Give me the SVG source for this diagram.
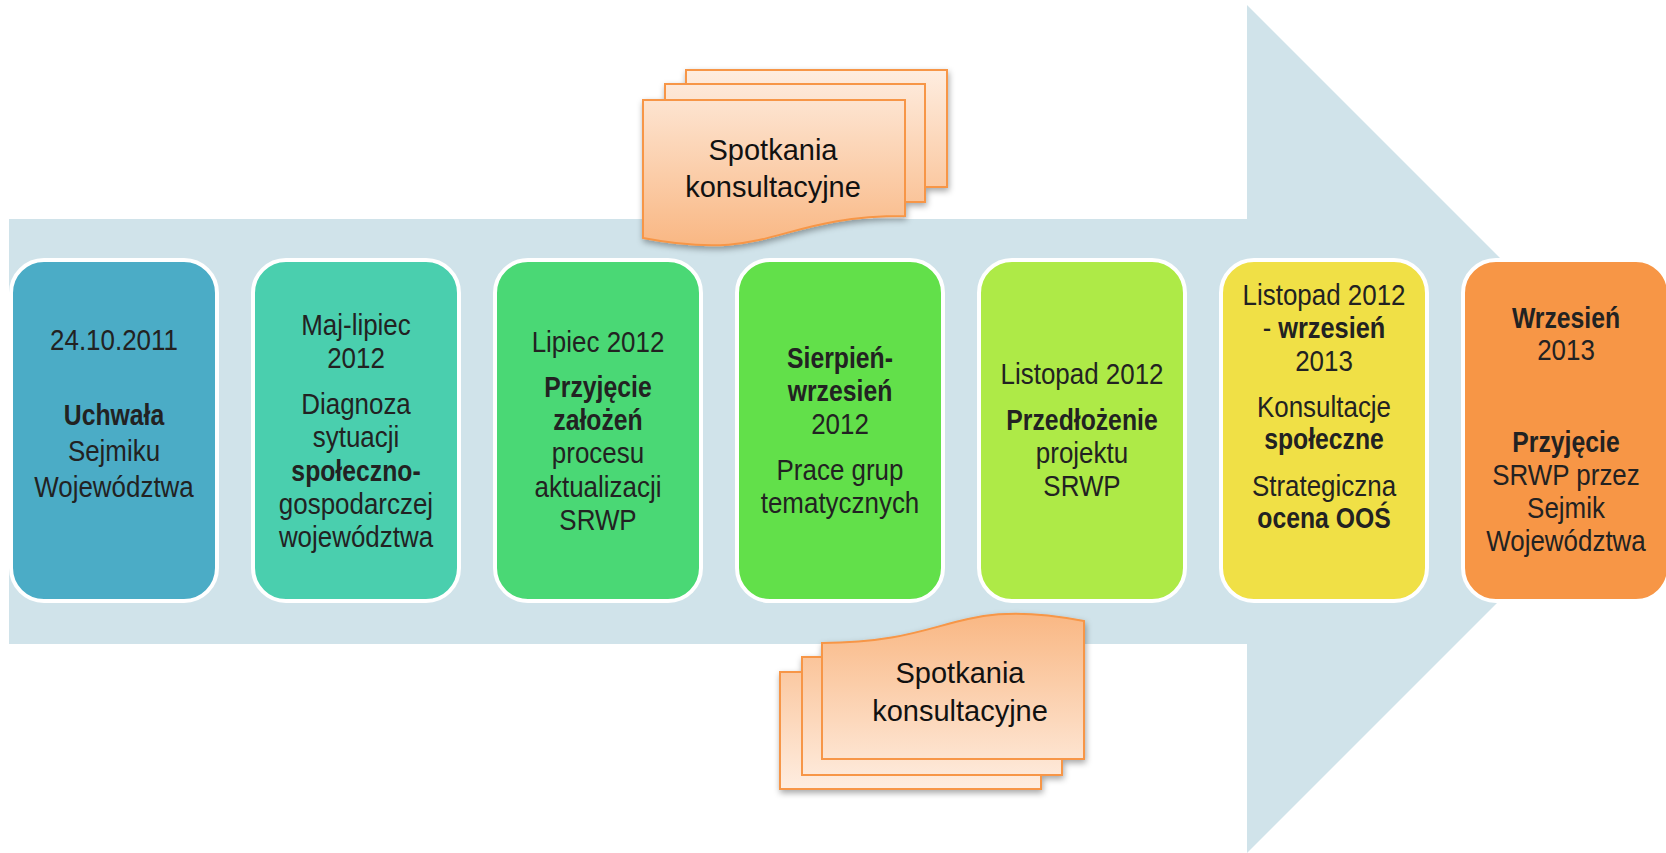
<svg xmlns="http://www.w3.org/2000/svg" width="1666" height="853" viewBox="0 0 1666 853">
<style>
  .node rect { stroke: #ffffff; stroke-width: 4; }
  .nt text { font-family: "Liberation Sans", Arial, sans-serif; font-size: 30px; text-anchor: middle; fill: #222222; }
  .nt .r { transform: scale(0.865, 1); }
  .nt .b { font-weight: bold; transform: scale(0.825, 1); }
  .nt .m { transform: scale(0.845, 1); }
  .nt tspan.bb { font-weight: bold; }
  .doc { fill: url(#docGrad); stroke: #F79646; stroke-width: 2; stroke-linejoin: miter; }
  .dt { font-family: "Liberation Sans", Arial, sans-serif; font-size: 29px; text-anchor: middle; fill: #111111; }
</style>
<defs>
  <linearGradient id="docGrad" gradientUnits="userSpaceOnUse" x1="0" y1="0" x2="0" y2="176">
    <stop offset="0" stop-color="#FEEDE0"/>
    <stop offset="1" stop-color="#F9B783"/>
  </linearGradient>
  <filter id="shadow" x="-10%" y="-10%" width="125%" height="130%">
    <feDropShadow dx="1" dy="3" stdDeviation="3" flood-color="#000000" flood-opacity="0.35"/>
  </filter>
  <g id="multidoc">
    <rect class="doc" x="43" y="0" width="261" height="117"/>
    <rect class="doc" x="22" y="14" width="260" height="118"/>
    <path class="doc" d="M0,30 H262 V146 C131,146 131,193 0,168 Z"/>
  </g>
</defs>

<polygon id="arrow" points="9,219 1247,219 1247,5 1671,429 1247,853 1247,644 9,644" fill="#D0E3EA"/>

<g id="connectors"></g>

<g id="doc-top">
  <g filter="url(#shadow)">
    <use href="#multidoc" transform="translate(643 70)"/>
  </g>
  <text class="dt" x="773" y="160">Spotkania</text>
  <text class="dt" x="773" y="197">konsultacyjne</text>
</g>

<g id="doc-bottom">
  <g filter="url(#shadow)">
    <use href="#multidoc" transform="matrix(-1 0 0 -1 1084 789)"/>
  </g>
  <text class="dt" x="960" y="683">Spotkania</text>
  <text class="dt" x="960" y="721">konsultacyjne</text>
</g>

<g id="node1" class="node">
  <rect x="11" y="260" width="206" height="341" rx="33" fill="#4BACC6"/>
  <g class="nt" transform="translate(114 0)">
    <text class="r" y="350">24.10.2011</text>
    <text class="b" y="425">Uchwała</text>
    <text class="r" y="461">Sejmiku</text>
    <text class="r" y="497">Województwa</text>
  </g>
</g>

<g id="node2" class="node">
  <rect x="253" y="260" width="206" height="341" rx="33" fill="#4ACFAE"/>
  <g class="nt" transform="translate(356 0)">
    <text class="r" y="335">Maj-lipiec</text>
    <text class="r" y="368">2012</text>
    <text class="r" y="414">Diagnoza</text>
    <text class="r" y="447">sytuacji</text>
    <text class="b" y="481">społeczno-</text>
    <text class="r" y="514">gospodarczej</text>
    <text class="r" y="547">województwa</text>
  </g>
</g>

<g id="node3" class="node">
  <rect x="495" y="260" width="206" height="341" rx="33" fill="#4AD875"/>
  <g class="nt" transform="translate(598 0)">
    <text class="r" y="352">Lipiec 2012</text>
    <text class="b" y="397">Przyjęcie</text>
    <text class="b" y="430">założeń</text>
    <text class="r" y="463">procesu</text>
    <text class="r" y="497">aktualizacji</text>
    <text class="r" y="530">SRWP</text>
  </g>
</g>

<g id="node4" class="node">
  <rect x="737" y="260" width="206" height="341" rx="33" fill="#62E04A"/>
  <g class="nt" transform="translate(840 0)">
    <text class="b" y="368">Sierpień-</text>
    <text class="b" y="401">wrzesień</text>
    <text class="r" y="434">2012</text>
    <text class="r" y="480">Prace grup</text>
    <text class="r" y="513">tematycznych</text>
  </g>
</g>

<g id="node5" class="node">
  <rect x="979" y="260" width="206" height="341" rx="33" fill="#AEEA47"/>
  <g class="nt" transform="translate(1082 0)">
    <text class="r" y="384">Listopad 2012</text>
    <text class="b" y="430">Przedłożenie</text>
    <text class="r" y="463">projektu</text>
    <text class="r" y="496">SRWP</text>
  </g>
</g>

<g id="node6" class="node">
  <rect x="1221" y="260" width="206" height="341" rx="33" fill="#F0E046"/>
  <g class="nt" transform="translate(1324 0)">
    <text class="r" y="305">Listopad 2012</text>
    <text class="m" y="338">- <tspan class="bb">wrzesień</tspan></text>
    <text class="r" y="371">2013</text>
    <text class="r" y="417">Konsultacje</text>
    <text class="b" y="449">społeczne</text>
    <text class="r" y="496">Strategiczna</text>
    <text class="b" y="528">ocena OOŚ</text>
  </g>
</g>

<g id="node7" class="node">
  <rect x="1463" y="260" width="206" height="341" rx="33" fill="#F79646"/>
  <g class="nt" transform="translate(1566 0)">
    <text class="b" y="328">Wrzesień</text>
    <text class="r" y="360">2013</text>
    <text class="b" y="452">Przyjęcie</text>
    <text class="r" y="485">SRWP przez</text>
    <text class="r" y="518">Sejmik</text>
    <text class="r" y="551">Województwa</text>
  </g>
</g>
</svg>
